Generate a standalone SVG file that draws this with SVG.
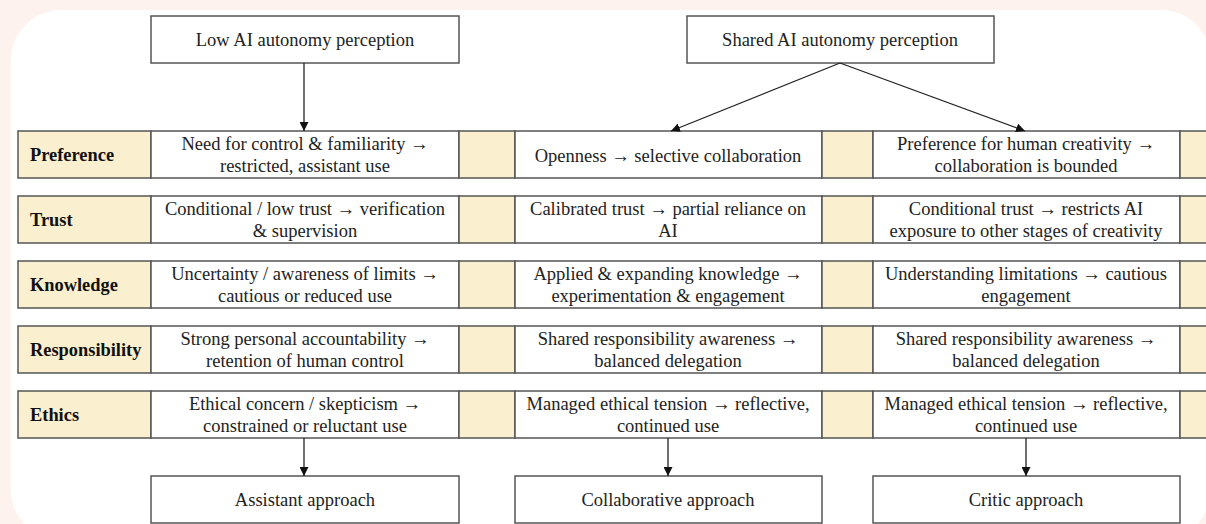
<svg xmlns="http://www.w3.org/2000/svg" width="1206" height="524" viewBox="0 0 1206 524">
<style>
.box{fill:#fff;stroke:#555;stroke-width:1.5}
.lab{fill:#faf0cf;stroke:#555;stroke-width:1.5}
.t{font-family:"Liberation Serif","Times New Roman",serif;font-size:18.5px;fill:#222;text-anchor:middle}
.b{font-family:"Liberation Serif","Times New Roman",serif;font-size:18.4px;font-weight:bold;fill:#111}
.c{stroke:#222;stroke-width:1.3;fill:none;marker-end:url(#ah)}
</style>
<defs>
<marker id="ah" viewBox="0 0 10 10" refX="10" refY="5" markerWidth="9" markerHeight="9" markerUnits="userSpaceOnUse" orient="auto"><path d="M0,0 L10,5 L0,10 z" fill="#111"/></marker>
</defs>
<rect x="0" y="0" width="1206" height="524" fill="#fdf2ed"/>
<rect x="11" y="10" width="1200" height="530" rx="50" fill="#fff"/>

<g id="top-low"><rect class="box" x="151" y="16" width="308" height="47"/><text class="t" x="305" y="46">Low AI autonomy perception</text></g>
<g id="top-shared"><rect class="box" x="687" y="16" width="307" height="47"/><text class="t" x="840" y="46">Shared AI autonomy perception</text></g>

<g id="row-preference">
<rect class="lab" x="18" y="131" width="133" height="47"/><text class="b" x="30" y="161">Preference</text>
<rect class="box" x="151" y="131" width="308" height="47"/><text class="t" x="305" y="150">Need for control &amp; familiarity →</text><text class="t" x="305" y="172">restricted, assistant use</text>
<rect class="lab" x="459" y="131" width="56" height="47"/>
<rect class="box" x="515" y="131" width="307" height="47"/><text class="t" x="668" y="162">Openness → selective collaboration</text>
<rect class="lab" x="822" y="131" width="51" height="47"/>
<rect class="box" x="873" y="131" width="307" height="47"/><text class="t" x="1026" y="150">Preference for human creativity →</text><text class="t" x="1026" y="172">collaboration is bounded</text>
<rect class="lab" x="1180" y="131" width="40" height="47"/>
</g>

<g id="row-trust">
<rect class="lab" x="18" y="196" width="133" height="47"/><text class="b" x="30" y="226">Trust</text>
<rect class="box" x="151" y="196" width="308" height="47"/><text class="t" x="305" y="215">Conditional / low trust → verification</text><text class="t" x="305" y="237">&amp; supervision</text>
<rect class="lab" x="459" y="196" width="56" height="47"/>
<rect class="box" x="515" y="196" width="307" height="47"/><text class="t" x="668" y="215">Calibrated trust → partial reliance on</text><text class="t" x="668" y="237">AI</text>
<rect class="lab" x="822" y="196" width="51" height="47"/>
<rect class="box" x="873" y="196" width="307" height="47"/><text class="t" x="1026" y="215">Conditional trust → restricts AI</text><text class="t" x="1026" y="237">exposure to other stages of creativity</text>
<rect class="lab" x="1180" y="196" width="40" height="47"/>
</g>

<g id="row-knowledge">
<rect class="lab" x="18" y="261" width="133" height="47"/><text class="b" x="30" y="291">Knowledge</text>
<rect class="box" x="151" y="261" width="308" height="47"/><text class="t" x="305" y="280">Uncertainty / awareness of limits →</text><text class="t" x="305" y="302">cautious or reduced use</text>
<rect class="lab" x="459" y="261" width="56" height="47"/>
<rect class="box" x="515" y="261" width="307" height="47"/><text class="t" x="668" y="280">Applied &amp; expanding knowledge →</text><text class="t" x="668" y="302">experimentation &amp; engagement</text>
<rect class="lab" x="822" y="261" width="51" height="47"/>
<rect class="box" x="873" y="261" width="307" height="47"/><text class="t" x="1026" y="280">Understanding limitations → cautious</text><text class="t" x="1026" y="302">engagement</text>
<rect class="lab" x="1180" y="261" width="40" height="47"/>
</g>

<g id="row-responsibility">
<rect class="lab" x="18" y="326" width="133" height="47"/><text class="b" x="30" y="356">Responsibility</text>
<rect class="box" x="151" y="326" width="308" height="47"/><text class="t" x="305" y="345">Strong personal accountability →</text><text class="t" x="305" y="367">retention of human control</text>
<rect class="lab" x="459" y="326" width="56" height="47"/>
<rect class="box" x="515" y="326" width="307" height="47"/><text class="t" x="668" y="345">Shared responsibility awareness →</text><text class="t" x="668" y="367">balanced delegation</text>
<rect class="lab" x="822" y="326" width="51" height="47"/>
<rect class="box" x="873" y="326" width="307" height="47"/><text class="t" x="1026" y="345">Shared responsibility awareness →</text><text class="t" x="1026" y="367">balanced delegation</text>
<rect class="lab" x="1180" y="326" width="40" height="47"/>
</g>

<g id="row-ethics">
<rect class="lab" x="18" y="391" width="133" height="47"/><text class="b" x="30" y="421">Ethics</text>
<rect class="box" x="151" y="391" width="308" height="47"/><text class="t" x="305" y="410">Ethical concern / skepticism →</text><text class="t" x="305" y="432">constrained or reluctant use</text>
<rect class="lab" x="459" y="391" width="56" height="47"/>
<rect class="box" x="515" y="391" width="307" height="47"/><text class="t" x="668" y="410">Managed ethical tension → reflective,</text><text class="t" x="668" y="432">continued use</text>
<rect class="lab" x="822" y="391" width="51" height="47"/>
<rect class="box" x="873" y="391" width="307" height="47"/><text class="t" x="1026" y="410">Managed ethical tension → reflective,</text><text class="t" x="1026" y="432">continued use</text>
<rect class="lab" x="1180" y="391" width="40" height="47"/>
</g>

<g id="out-assistant"><rect class="box" x="151" y="476" width="308" height="47"/><text class="t" x="305" y="506">Assistant approach</text></g>
<g id="out-collaborative"><rect class="box" x="515" y="476" width="307" height="47"/><text class="t" x="668" y="506">Collaborative approach</text></g>
<g id="out-critic"><rect class="box" x="873" y="476" width="307" height="47"/><text class="t" x="1026" y="506">Critic approach</text></g>

<g id="connectors">
<line class="c" x1="304" y1="63" x2="304" y2="131"/>
<line class="c" x1="840" y1="63" x2="671" y2="131"/>
<line class="c" x1="840" y1="63" x2="1025" y2="131"/>
<line class="c" x1="304" y1="438" x2="304" y2="476"/>
<line class="c" x1="668" y1="438" x2="668" y2="476"/>
<line class="c" x1="1026" y1="438" x2="1026" y2="476"/>
</g>
</svg>
